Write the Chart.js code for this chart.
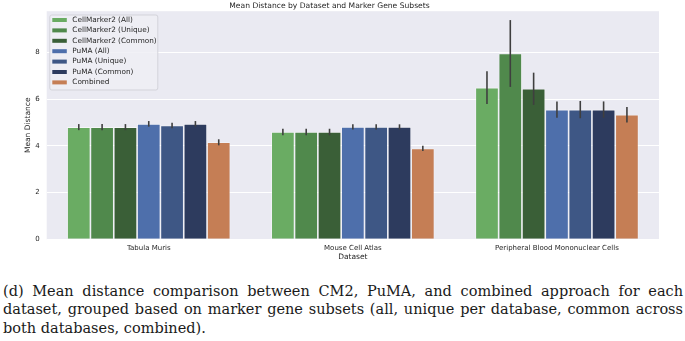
<!DOCTYPE html>
<html>
<head>
<meta charset="utf-8">
<script src="https://cdn.jsdelivr.net/npm/chart.js@4.4.1/dist/chart.umd.min.js"></script>
<style>
  html, body { margin: 0; padding: 0; background: #fff; }
  #wrap { position: relative; width: 685px; height: 341px; overflow: hidden; }
  #chart { position: absolute; left: 0; top: 0; }
  #caption {
    position: absolute; left: 3px; top: 282px; width: 680px;
    font-family: "DejaVu Serif", serif;
    font-size: 14.5px; line-height: 18.3px;
    color: #1a1a1a;
  }
  #caption .j { text-align: justify; text-align-last: justify; }
</style>
</head>
<body>
<div id="wrap">
  <canvas id="chart" width="685" height="262"></canvas>
  <div id="caption">
    <div class="j">(d) Mean distance comparison between CM2, PuMA, and combined approach for each</div>
    <div class="j">dataset, grouped based on marker gene subsets (all, unique per database, common across</div>
    <div>both databases, combined).</div>
  </div>
</div>
<script>
const categories = ["Tabula Muris", "Mouse Cell Atlas", "Peripheral Blood Mononuclear Cells"];
const seriesNames = ["CellMarker2 (All)", "CellMarker2 (Unique)", "CellMarker2 (Common)",
  "PuMA (All)", "PuMA (Unique)", "PuMA (Common)", "Combined"];
const seriesColors = ["#6aac63", "#50894c", "#3a5f37", "#4e6fab", "#3e5785", "#2d3b5e", "#c57e55"];

// mean distance per dataset
const cm2All     = [4.80, 4.59, 6.49];
const cm2Unique  = [4.80, 4.59, 7.95];
const cm2Common  = [4.80, 4.59, 6.44];
const pumaAll    = [4.94, 4.81, 5.55];
const pumaUnique = [4.87, 4.81, 5.55];
const pumaCommon = [4.94, 4.81, 5.55];
const combined   = [4.15, 3.89, 5.33];

// half-length of the confidence interval
const cm2AllErr     = [0.13, 0.14, 0.70];
const cm2UniqueErr  = [0.13, 0.14, 1.43];
const cm2CommonErr  = [0.13, 0.14, 0.69];
const pumaAllErr    = [0.12, 0.11, 0.35];
const pumaUniqueErr = [0.12, 0.11, 0.37];
const pumaCommonErr = [0.12, 0.11, 0.35];
const combinedErr   = [0.13, 0.11, 0.33];

const yTicks = [0, 2, 4, 6, 8];

const values = [cm2All, cm2Unique, cm2Common, pumaAll, pumaUnique, pumaCommon, combined];
const errors = [cm2AllErr, cm2UniqueErr, cm2CommonErr, pumaAllErr, pumaUniqueErr, pumaCommonErr, combinedErr];

const txt = "#262626";
const sans = "'DejaVu Sans', sans-serif";

const plotBg = {
  id: "plotBg",
  beforeDraw(chart) {
    const { ctx, chartArea: a } = chart;
    ctx.save();
    ctx.fillStyle = "#eaeaf2";
    ctx.fillRect(a.left, a.top, a.right - a.left, a.bottom - a.top);
    ctx.restore();
  }
};

const errorBars = {
  id: "errorBars",
  afterDatasetsDraw(chart) {
    const { ctx, scales: { y } } = chart;
    ctx.save();
    ctx.strokeStyle = "#3f3f3f";
    ctx.lineWidth = 1.6;
    chart.data.datasets.forEach((ds, i) => {
      chart.getDatasetMeta(i).data.forEach((bar, j) => {
        const v = ds.data[j], e = ds.err[j];
        ctx.beginPath();
        ctx.moveTo(bar.x, y.getPixelForValue(v - e));
        ctx.lineTo(bar.x, y.getPixelForValue(v + e));
        ctx.stroke();
      });
    });
    ctx.restore();
  }
};

const boxLegend = {
  id: "boxLegend",
  afterDraw(chart) {
    const { ctx, chartArea: a } = chart;
    const x0 = a.left + 2.6, y0 = a.top + 3.3, w = 108, h = 75, row = 10.4;
    ctx.save();
    ctx.fillStyle = "rgba(238,238,245,0.85)";
    ctx.strokeStyle = "#d3d3da";
    ctx.lineWidth = 1;
    ctx.beginPath();
    ctx.roundRect(x0 + 0.5, y0 + 0.5, w, h, 2);
    ctx.fill();
    ctx.stroke();
    ctx.font = "7.3px " + sans;
    ctx.textBaseline = "middle";
    chart.data.datasets.forEach((ds, i) => {
      const cy = y0 + 5.5 + i * row;
      ctx.fillStyle = ds.backgroundColor;
      ctx.fillRect(x0 + 3, cy - 2, 14.5, 4);
      ctx.fillStyle = txt;
      ctx.fillText(ds.label, x0 + 23, cy);
    });
    ctx.restore();
  }
};

new Chart(document.getElementById("chart"), {
  type: "bar",
  data: {
    labels: categories,
    datasets: seriesNames.map((name, i) => ({
      label: name,
      data: values[i],
      err: errors[i],
      backgroundColor: seriesColors[i],
      borderColor: "rgba(255,255,255,0.55)",
      borderWidth: 0.8,
      categoryPercentage: 0.8,
      barPercentage: 1.0
    }))
  },
  options: {
    responsive: false,
    animation: false,
    devicePixelRatio: 1,
    layout: { padding: { left: 0, right: 26, top: 0, bottom: 0 } },
    plugins: {
      legend: { display: false },
      tooltip: { enabled: false },
      title: {
        display: true,
        text: "Mean Distance by Dataset and Marker Gene Subsets",
        color: txt,
        font: { family: sans, size: 7.6, weight: "normal" },
        padding: { top: 0, bottom: 1 }
      }
    },
    scales: {
      x: {
        grid: { display: false, drawTicks: false },
        border: { display: false },
        ticks: { color: txt, font: { family: sans, size: 7 }, padding: 4.8, maxRotation: 0 },
        title: { display: true, text: "Dataset", color: txt, font: { family: sans, size: 7.5 }, padding: 0 },
        afterFit(s) { s.height = 22.7; }
      },
      y: {
        min: 0,
        max: 9.76,
        grid: { color: "#ffffff", lineWidth: 1, drawTicks: false },
        border: { display: false },
        afterBuildTicks(s) { s.ticks = yTicks.map(v => ({ value: v })); },
        ticks: { color: txt, font: { family: sans, size: 7 }, padding: 7 },
        title: { display: true, text: "Mean Distance", color: txt, font: { family: sans, size: 7.5 }, padding: { top: 23.5, bottom: 0 } },
        afterFit(s) { s.width = 46.7; }
      }
    }
  },
  plugins: [plotBg, errorBars, boxLegend]
});
</script>
</body>
</html>
